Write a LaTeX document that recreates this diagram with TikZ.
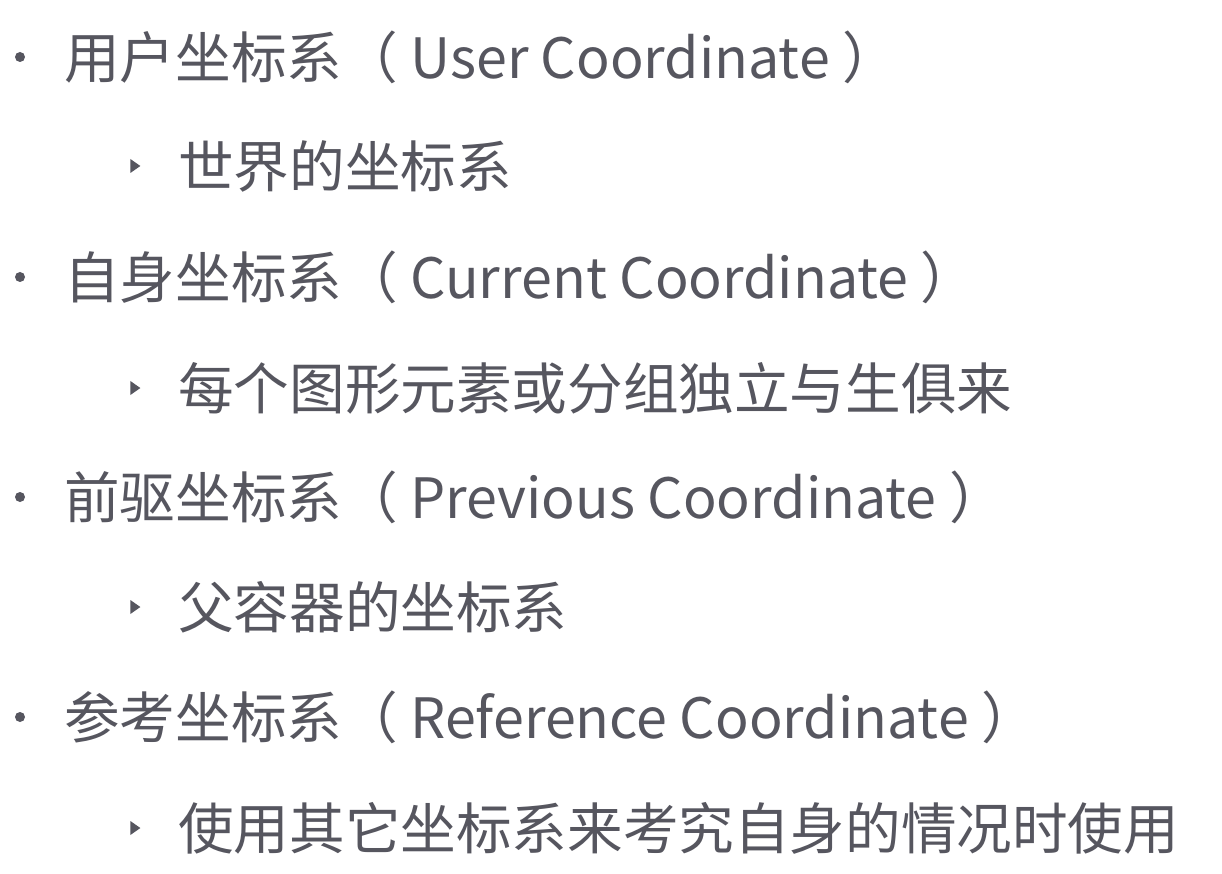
\documentclass[tikz,border=0pt]{standalone}
\usepackage{fontspec}
\usetikzlibrary{shapes.geometric}
\setmainfont{Noto Sans CJK SC}
\newfontfamily\cjk{Noto Sans CJK SC}
\definecolor{txt}{HTML}{56565F}
\begin{document}
\begin{tikzpicture}[x=1pt,y=-1pt,
  item/.style={anchor=west,inner sep=0pt,text=txt,font=\cjk\fontsize{55.6}{62}\selectfont},
  dotb/.style={fill=txt,circle,inner sep=0pt,minimum size=10pt},
  trib/.style={fill=txt,isosceles triangle,inner sep=0pt,minimum height=10pt,minimum width=13pt,isosceles triangle apex angle=70}]
\useasboundingbox (0,0) rectangle (1222,874);
\fill[white] (0,0) rectangle (1222,874);
% level 1
\node[dotb] (b1) at (20,57) {};
\node[item] (t1) at (64,57) {用户坐标系（ User Coordinate ）};
\node[dotb] (b3) at (20,277) {};
\node[item] (t3) at (64,277) {自身坐标系（ Current Coordinate ）};
\node[dotb] (b5) at (20,497) {};
\node[item] (t5) at (64,497) {前驱坐标系（ Previous Coordinate ）};
\node[dotb] (b7) at (20,717) {};
\node[item] (t7) at (64,717) {参考坐标系（ Reference Coordinate ）};
% level 2
\node[trib] (b2) at (134,166) {};
\node[item] (t2) at (178,166) {世界的坐标系};
\node[trib] (b4) at (134,388) {};
\node[item] (t4) at (178,388) {每个图形元素或分组独立与生俱来};
\node[trib] (b6) at (134,607) {};
\node[item] (t6) at (178,607) {父容器的坐标系};
\node[trib] (b8) at (134,828) {};
\node[item] (t8) at (178,828) {使用其它坐标系来考究自身的情况时使用};
\end{tikzpicture}
\end{document}
